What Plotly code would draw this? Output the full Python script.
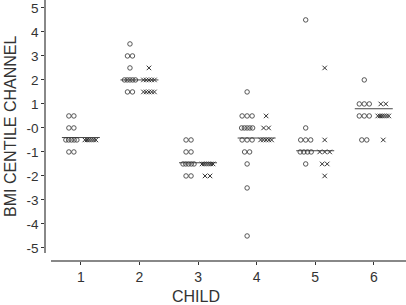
import plotly.graph_objects as go
from collections import Counter

# ---- data ----
children = [1, 2, 3, 4, 5, 6]
x_tick_labels = ["1", "2", "3", "4", "5", "6"]
y_tick_vals = [5, 4, 3, 2, 1, 0, -1, -2, -3, -4, -5]
y_tick_labels = ["5", "4", "3", "2", "1", "-0", "-1", "-2", "-3", "-4", "-5"]

circles_child1 = [0.5, 0.5, 0, 0, -0.5, -0.5, -0.5, -0.5, -0.5, -1, -1]
circles_child2 = [3.5, 3, 3, 2.5, 2, 2, 2, 2, 2, 1.5, 1.5]
circles_child3 = [-0.5, -0.5, -1, -1, -1.5, -1.5, -1.5, -1.5, -1.5, -2, -2]
circles_child4 = [1.5, 0.5, 0.5, 0.5, 0, 0, 0, 0, 0, -0.5, -0.5, -0.5, -1, -1, -1.5, -2.5, -4.5]
circles_child5 = [4.5, 0, -0.5, -0.5, -0.5, -1, -1, -1, -1, -1.5]
circles_child6 = [2, 1, 1, 1, 0.5, 0.5, 0.5, -0.5, -0.5]

crosses_child1 = [-0.5, -0.5, -0.5, -0.5, -0.5, -0.5]
crosses_child2 = [2.5, 2, 2, 2, 2, 2, 1.5, 1.5, 1.5, 1.5, 1.5]
crosses_child3 = [-1.5, -1.5, -1.5, -1.5, -1.5, -1.5, -2, -2]
crosses_child4 = [0.5, 0, 0, -0.5, -0.5, -0.5, -0.5, -0.5]
crosses_child5 = [2.5, -0.5, -1, -1, -1, -1.5, -1.5, -2]
crosses_child6 = [1, 1, 0.5, 0.5, 0.5, 0.5, 0.5, 0.5, -0.5]

center_lines = [-0.4, 2.0, -1.45, -0.42, -0.95, 0.8]

circles = [circles_child1, circles_child2, circles_child3,
           circles_child4, circles_child5, circles_child6]
crosses = [crosses_child1, crosses_child2, crosses_child3,
           crosses_child4, crosses_child5, crosses_child6]

# ---- layout helpers (positions, not data) ----
PX = 1 / 58.6          # one pixel in x data units
GROUP_OFF = 9.5 * PX   # circles left of the category, crosses right
HALF_LINE = 19 * PX


def stacked(center, values):
    """Dot-plot style horizontal stacking of equal values."""
    counts = Counter(values)
    seen = Counter()
    xs = []
    for v in values:
        n = counts[v]
        step = min(5.0, 11.0 / (n - 1)) * PX if n > 1 else 0
        i = seen[v]
        seen[v] += 1
        xs.append(center + (i - (n - 1) / 2) * step)
    return xs


fig = go.Figure()
cx, cy, xx, xy = [], [], [], []
for c, circ, cros in zip(children, circles, crosses):
    cx += stacked(c - GROUP_OFF, circ)
    cy += circ
    xx += stacked(c + GROUP_OFF, cros)
    xy += cros

fig.add_trace(go.Scatter(
    x=cx, y=cy, mode="markers",
    marker=dict(symbol="circle-open", size=4.5, color="#444",
                line=dict(width=0.9, color="#444")),
    showlegend=False, hoverinfo="skip"))
fig.add_trace(go.Scatter(
    x=xx, y=xy, mode="markers",
    marker=dict(symbol="x-thin-open", size=4.5, color="#333",
                line=dict(width=1, color="#333")),
    showlegend=False, hoverinfo="skip"))

lx, ly = [], []
for c, m in zip(children, center_lines):
    lx += [c - HALF_LINE, c + HALF_LINE, None]
    ly += [m, m, None]
fig.add_trace(go.Scatter(x=lx, y=ly, mode="lines",
                         line=dict(color="#333", width=0.9),
                         showlegend=False, hoverinfo="skip"))

W, H = 406, 305
L, B = 45, 44
plot_w, plot_h = W - L, H - B

fig.update_layout(
    width=W, height=H,
    margin=dict(l=L, r=0, t=0, b=B),
    paper_bgcolor="white", plot_bgcolor="white",
    font=dict(family="Liberation Sans, Arial, sans-serif", size=13, color="#333"),
    xaxis=dict(
        domain=[6 / plot_w, 1], range=[0.49, 6.55],
        anchor="free", position=0,
        tickvals=children, ticktext=x_tick_labels,
        showline=True, linecolor="#888", linewidth=1.5,
        ticks="outside", ticklen=3, tickcolor="#333", tickwidth=1,
        showgrid=False, zeroline=False,
        tickfont=dict(size=14, color="#333"),
    ),
    yaxis=dict(
        domain=[8 / plot_h, 1], range=[-5.21, 5.33],
        anchor="free", position=0,
        tickvals=y_tick_vals, ticktext=y_tick_labels,
        showline=True, linecolor="#888", linewidth=1.5,
        ticks="outside", ticklen=3, tickcolor="#333", tickwidth=1,
        showgrid=False, zeroline=False,
        tickfont=dict(size=13.5, color="#333"),
    ),
    annotations=[
        dict(text="CHILD", xref="paper", yref="paper",
             x=(196 - L) / plot_w, y=(plot_h - 296) / plot_h,
             xanchor="center", yanchor="middle", showarrow=False,
             font=dict(size=16, color="#333")),
        dict(text="BMI CENTILE CHANNEL", xref="paper", yref="paper",
             x=(10 - L) / plot_w, y=(plot_h - 127) / plot_h,
             xanchor="center", yanchor="middle", showarrow=False,
             textangle=-90, font=dict(size=16, color="#333")),
    ],
)

fig.write_html(
    "out.html",
    config={"displayModeBar": False},
    post_script="document.body.style.margin='0';document.body.style.padding='0';",
)
